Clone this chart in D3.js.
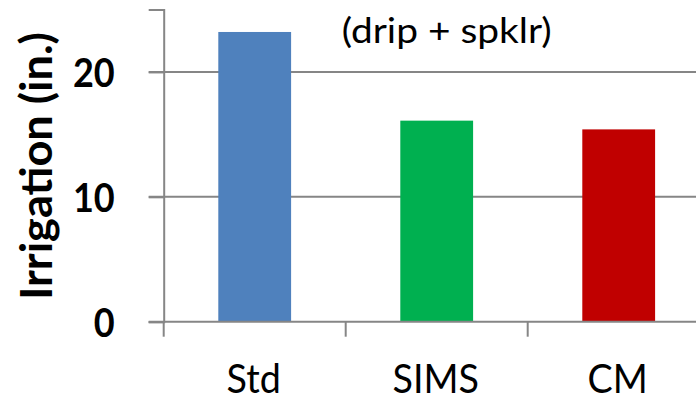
<!DOCTYPE html>
<html>
<head>
<meta charset="utf-8">
<script src="https://cdn.jsdelivr.net/npm/d3@7"></script>
<style>
  html, body { margin: 0; padding: 0; background: #fff; }
  svg { display: block; font-family: Lato, "Open Sans", sans-serif; }
</style>
</head>
<body>
<svg id="chart" width="696" height="402"></svg>
<script>
// Seasonal irrigation by management approach
const categories = ["Std", "SIMS", "CM"];
const irrigation = [23.2, 16.1, 15.4];
const barColors = ["#4F81BD", "#00B050", "#C00000"];
const yTicks = [0, 10, 20];
const yTitle = "Irrigation (in.)";
const note = "(drip + spklr)";

const svg = d3.select("#chart");
const W = 696, H = 402;
const margin = { left: 163.7, top: 9.5, bottom: 80.3 };
const bandStep = 182;
const plotRight = margin.left + categories.length * bandStep;
const axisColor = "#868686";
const lineW = 2;
const condense = 0.92; // narrower, Calibri-like set width

const x = d3.scaleBand()
  .domain(categories)
  .range([margin.left, plotRight])
  .paddingInner(0.6)
  .paddingOuter(0.3);

const y = d3.scaleLinear()
  .domain([0, 25])
  .range([H - margin.bottom, margin.top]);

// squeeze a text element horizontally by a factor
function squeeze(sel, f) {
  sel.each(function () {
    const len = this.getComputedTextLength();
    d3.select(this).attr("textLength", len * f).attr("lengthAdjust", "spacingAndGlyphs");
  });
}

// horizontal gridlines (behind bars)
svg.append("g")
  .selectAll("line")
  .data(yTicks.filter(d => d > 0))
  .join("line")
  .attr("x1", margin.left - 15)
  .attr("x2", W)
  .attr("y1", d => y(d))
  .attr("y2", d => y(d))
  .attr("stroke", axisColor)
  .attr("stroke-width", lineW);

// bars
svg.append("g")
  .selectAll("rect")
  .data(categories)
  .join("rect")
  .attr("x", d => x(d))
  .attr("width", x.bandwidth())
  .attr("y", (d, i) => y(irrigation[i]))
  .attr("height", (d, i) => y(0) - y(irrigation[i]))
  .attr("fill", (d, i) => barColors[i]);

// y axis
const yAxis = svg.append("g")
  .attr("transform", `translate(${margin.left},0)`)
  .call(d3.axisLeft(y).tickValues(yTicks).tickSize(15).tickPadding(34).tickFormat(d3.format("d")));
yAxis.select(".domain").attr("stroke", axisColor).attr("stroke-width", lineW);
yAxis.selectAll(".tick line").attr("stroke", axisColor).attr("stroke-width", lineW);
yAxis.selectAll(".tick text")
  .attr("fill", "#000")
  .attr("font-family", "Lato, sans-serif")
  .attr("font-weight", "bold")
  .attr("font-size", 40)
  .attr("dy", "0.36em")
  .call(squeeze, 0.9);

// x axis baseline with ticks at band boundaries
const xAxisG = svg.append("g")
  .attr("transform", `translate(0,${y(0)})`);
xAxisG.append("line")
  .attr("x1", margin.left - 15)
  .attr("x2", W)
  .attr("stroke", axisColor)
  .attr("stroke-width", lineW);
const boundaries = d3.range(categories.length + 1).map(i => margin.left + i * bandStep);
xAxisG.selectAll(".bt")
  .data(boundaries)
  .join("line")
  .attr("class", "bt")
  .attr("x1", d => d).attr("x2", d => d)
  .attr("y1", 0).attr("y2", 15)
  .attr("stroke", axisColor)
  .attr("stroke-width", lineW);
xAxisG.selectAll(".cat")
  .data(categories)
  .join("text")
  .attr("class", "cat")
  .attr("x", d => x(d) + x.bandwidth() / 2 - 1)
  .attr("y", 71.5)
  .attr("text-anchor", "middle")
  .attr("font-size", 41)
  .attr("fill", "#000")
  .text(d => d)
  .call(squeeze, condense);

// y axis title
svg.append("text")
  .attr("transform", `translate(51.5,166) rotate(-90)`)
  .attr("text-anchor", "middle")
  .attr("font-weight", "bold")
  .attr("font-size", 43)
  .attr("fill", "#000")
  .text(yTitle)
  .attr("textLength", 268)
  .attr("lengthAdjust", "spacingAndGlyphs");

// annotation
svg.append("text")
  .attr("x", 446.7)
  .attr("y", 43)
  .attr("text-anchor", "middle")
  .attr("font-size", 35)
  .attr("fill", "#000")
  .text(note)
  .attr("textLength", 210)
  .attr("lengthAdjust", "spacingAndGlyphs");
</script>
</body>
</html>
